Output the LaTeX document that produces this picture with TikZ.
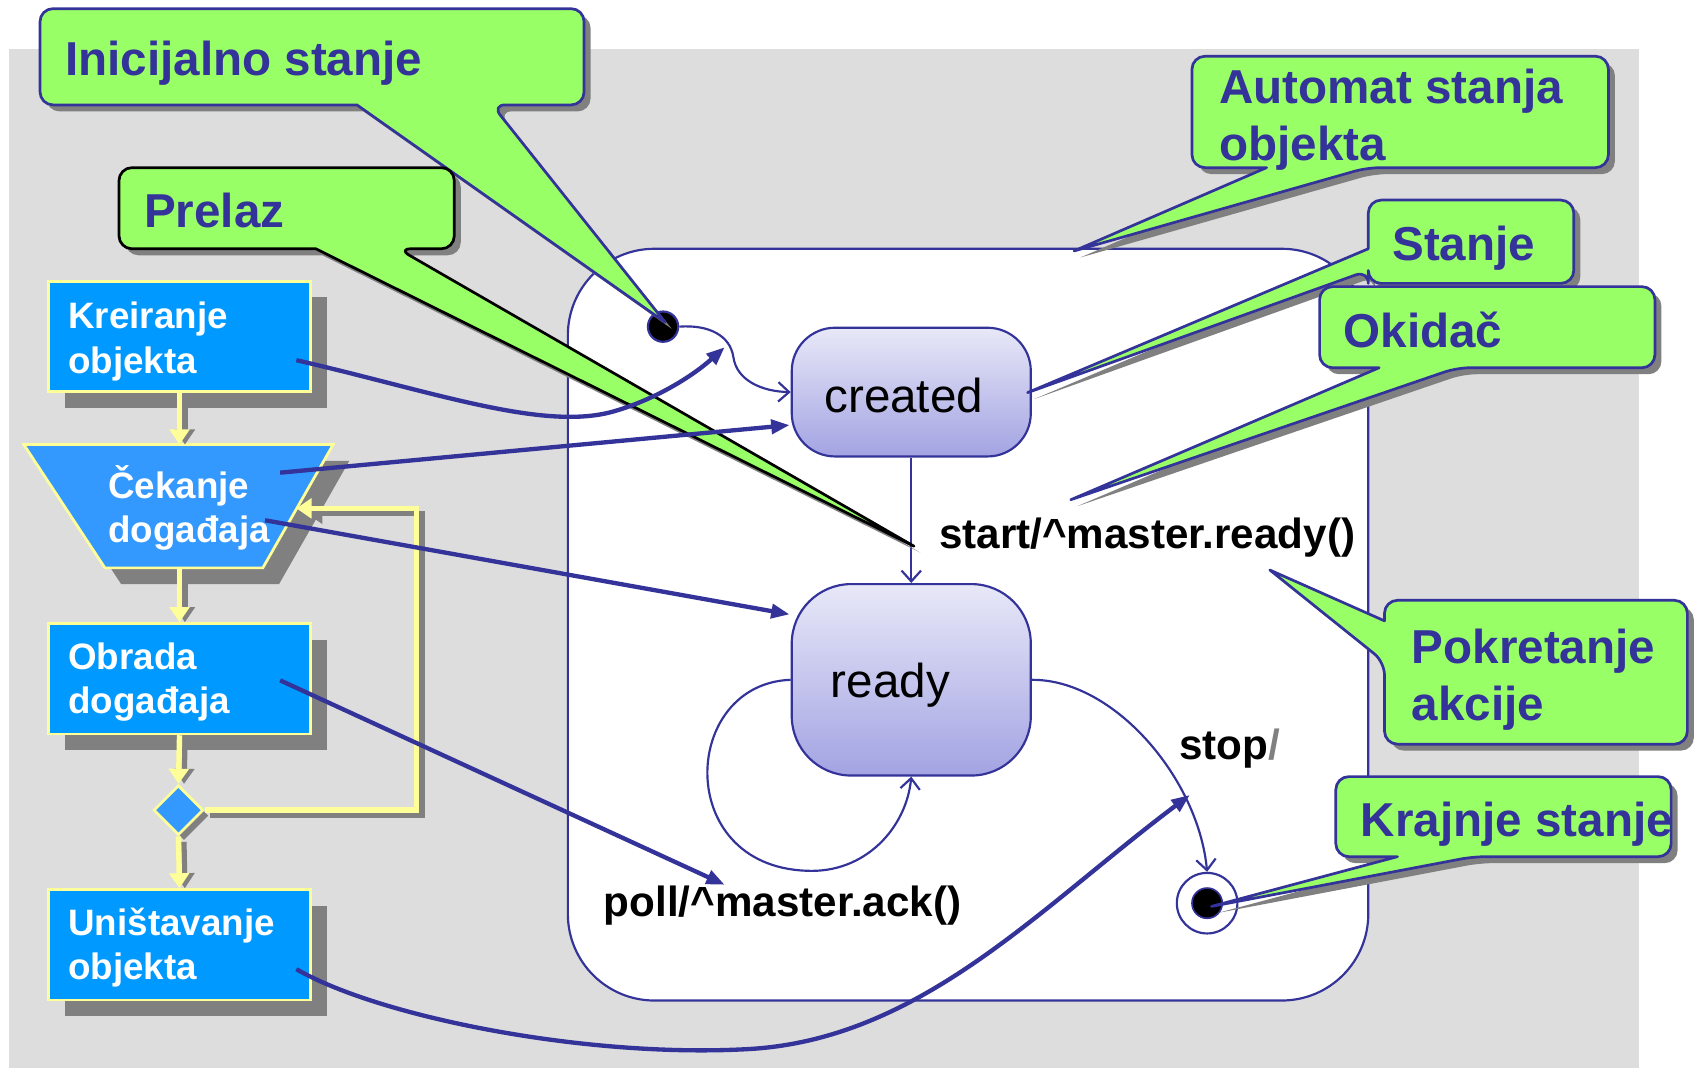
\documentclass[tikz,border=0pt]{standalone}
\usepackage{fontspec}
\setmainfont{Liberation Sans}
\usetikzlibrary{arrows.meta,shapes.geometric,shadows}
\definecolor{cgreen}{HTML}{99FF66}
\definecolor{cdblue}{HTML}{333399}
\definecolor{cfbox}{HTML}{0099FF}
\definecolor{cflight}{HTML}{3399FF}
\definecolor{cyel}{HTML}{FFFF99}
\definecolor{cshad}{HTML}{808080}
\definecolor{cbg}{HTML}{DDDDDD}
\definecolor{cstop}{HTML}{E8E8F8}
\definecolor{csbot}{HTML}{A3A3E3}
% callout with pointer from bottom edge: x1 y1 x2 y2 b1 b2 tip colour
\newcommand\callB[8]{%
  \fill[cshad,transform canvas={xshift=6pt,yshift=-6pt}] (#1,{(#2+#4)/2}) [rounded corners=12pt] -- (#1,#2) -- (#3,#2) -- (#3,#4) -- (#6,#4) [sharp corners] -- (#7) -- (#5,#4) [rounded corners=12pt] -- (#1,#4) -- cycle;
  \filldraw[fill=cgreen,draw=#8,line width=2.5pt,line join=round] (#1,{(#2+#4)/2}) [rounded corners=12pt] -- (#1,#2) -- (#3,#2) -- (#3,#4) -- (#6,#4) [sharp corners] -- (#7) -- (#5,#4) [rounded corners=12pt] -- (#1,#4) -- cycle;
}
% callout with pointer from left edge: x1 y1 x2 y2 yb1 yb2 tip colour
\newcommand\callL[8]{%
  \fill[cshad,transform canvas={xshift=6pt,yshift=-6pt}] ({(#1+#3)/2},#2) [rounded corners=12pt] -- (#3,#2) -- (#3,#4) -- (#1,#4) -- (#1,#6) [sharp corners] -- (#7) -- (#1,#5) [rounded corners=12pt] -- (#1,#2) -- cycle;
  \filldraw[fill=cgreen,draw=#8,line width=2.5pt,line join=round] ({(#1+#3)/2},#2) [rounded corners=12pt] -- (#3,#2) -- (#3,#4) -- (#1,#4) -- (#1,#6) [sharp corners] -- (#7) -- (#1,#5) [rounded corners=12pt] -- (#1,#2) -- cycle;
}
\begin{document}
\begin{tikzpicture}[x=1pt,y=-1pt,
  fbx/.style={rectangle, fill=cfbox, draw=cyel, line width=2.5pt, minimum width=242pt, minimum height=102pt, inner sep=0pt, drop shadow={shadow xshift=15pt, shadow yshift=-15pt, fill=cshad, opacity=1}},
  ftext/.style={anchor=base west, inner sep=0pt, text=white, font=\fontsize{34}{40}\selectfont\bfseries},
  ctext/.style={anchor=base west, inner sep=0pt, text=cdblue, font=\fontsize{44}{50}\selectfont\bfseries},
  stext/.style={anchor=base west, inner sep=0pt, text=black, font=\fontsize{44}{50}\selectfont},
  lab/.style={anchor=base west, inner sep=0pt, text=black, font=\fontsize{39}{44}\selectfont\bfseries},
  yarr/.style={draw=cyel, line width=5pt, -{Triangle[length=14pt,width=18pt]}},
  yshd/.style={draw=cshad, line width=5pt, shorten >=5pt, -{Triangle[length=14pt,width=18pt]}, transform canvas={xshift=5pt,yshift=-5pt}},
  stt/.style={rectangle, draw=cdblue, line width=2pt, top color=cstop, bottom color=csbot, minimum width=221pt, inner sep=0pt},
  trn/.style={draw=cdblue, line width=2pt, -{Straight Barb[length=10pt,width=18pt]}},
  conn/.style={draw=cdblue, line width=4pt, -{Triangle[length=17pt,width=13pt]}},
]
\useasboundingbox (0,0) rectangle (1568,987);
\fill[cbg] (8,45) rectangle (1515,987);
\draw[cdblue, line width=2pt, fill=white, rounded corners=80pt] (525,230) rectangle (1265,925);

% ---------- flowchart ----------
\node[fbx] (kre) at (166,311) {};
\fill[cshad] (37,426) -- (323,426) -- (258,540) -- (112,540) -- cycle;
\filldraw[fill=cflight, draw=cyel, line width=2.5pt] (22,411) -- (308,411) -- (243,525) -- (97,525) -- cycle;
\coordinate (cek-top) at (166,411);
\coordinate (cek-bot) at (166,525);
\coordinate (cek-r) at (274,470);
\node[fbx] (obr) at (166,627.5) {};
\node[diamond, fill=cflight, draw=cyel, line width=2.5pt, minimum width=46pt, minimum height=46pt, inner sep=0pt, drop shadow={shadow xshift=5pt, shadow yshift=-5pt, fill=cshad, opacity=1}] (dec) at (165,749) {};
\node[fbx] (uni) at (166,873.5) {};

\draw[yshd] (kre.south) -- (cek-top);
\draw[yshd] (cek-bot) -- (obr.north);
\draw[yshd] (obr.south) -- (dec.north);
\draw[yshd] (dec.south) -- (uni.north);
\draw[yshd] (dec.east) -- (385,749) -- (385,470) -- (cek-r);
\draw[yarr] (kre.south) -- (cek-top);
\draw[yarr] (cek-bot) -- (obr.north);
\draw[yarr] (obr.south) -- (dec.north);
\draw[yarr] (dec.south) -- (uni.north);
\draw[yarr] (dec.east) -- (385,749) -- (385,470) -- (cek-r);

\node[ftext] (t-kre1) at (63,304) {Kreiranje};
\node[ftext] (t-kre2) at (63,345) {objekta};
\node[ftext] (t-cek1) at (100,461) {Čekanje};
\node[ftext] (t-cek2) at (100,502) {događaja};
\node[ftext] (t-obr1) at (63,619) {Obrada};
\node[ftext] (t-obr2) at (63,660) {događaja};
\node[ftext] (t-uni1) at (63,865) {Uništavanje};
\node[ftext] (t-uni2) at (63,906) {objekta};

% ---------- state machine ----------
\node[stt, minimum height=119pt, rounded corners=40pt] (created) at (842.5,362.5) {};
\node[stext] (t-created) at (762,381) {created};
\node[stt, minimum height=177pt, rounded corners=55pt] (ready) at (842.5,628.5) {};
\node[stext] (t-ready) at (768,645) {ready};
\node[circle, fill=black, draw=cdblue, line width=2pt, minimum size=28pt, inner sep=0pt] (init) at (613,302) {};
\node[circle, fill=white, draw=cdblue, line width=2pt, minimum size=56pt, inner sep=0pt] (fin) at (1116,835) {};
\node[circle, fill=black, draw=cdblue, line width=1.5pt, minimum size=28pt, inner sep=0pt] (fin-in) at (1116,835) {};

\draw[trn] (init.east) .. controls (655,300) and (675,310) .. (678,330) .. controls (681,352) and (705,362) .. (created.west);
\draw[trn] (created.south) -- (ready.north);
\draw[trn] (ready.west) .. controls (630,632) and (622,800) .. (745,805) .. controls (800,808) and (838,765) .. (ready.south);
\draw[trn] (ready.east) .. controls (1030,628) and (1108,720) .. (fin.north);

\node[lab] (l-start) at (868,507) {start/\textasciicircum master.ready()};
\node[lab] (l-stop) at (1090,702) {stop\textcolor{gray}{/}};
\node[lab] (l-poll) at (558,847) {poll/\textasciicircum master.ack()};

% ---------- callouts ----------
\coordinate (tipI) at (615,298);
\coordinate (tipP) at (845,505);
\coordinate (tipA) at (993,232);
\coordinate (tipS) at (950,363);
\coordinate (tipO) at (990,462);
\coordinate (tipK) at (1174,527);
\coordinate (tipE) at (1120,838);

\callB{37}{8}{540}{97}{330}{455}{tipI}{cdblue}
\node[ctext] (t-ini) at (60,70) {Inicijalno stanje};
\callB{110}{155}{420}{230}{292}{368}{tipP}{black}
\node[ctext] (t-pre) at (133,210) {Prelaz};
\callB{1102}{52}{1487}{155}{1171}{1264}{tipA}{cdblue}
\node[ctext] (t-aut1) at (1127,96) {Automat stanja};
\node[ctext] (t-aut2) at (1127,148) {objekta};
\callL{1265}{185}{1455}{262}{230}{250}{tipS}{cdblue}
\node[ctext] (t-sta) at (1287,241) {Stanje};
\callB{1220}{265}{1530}{340}{1275}{1347}{tipO}{cdblue}
\node[ctext] (t-oki) at (1242,321) {Okidač};
\callL{1280}{555}{1560}{688}{574}{612}{tipK}{cdblue}
\node[ctext] (t-pok1) at (1305,613) {Pokretanje};
\node[ctext] (t-pok2) at (1305,666) {akcije};
\callB{1235}{718}{1545}{792}{1292}{1362}{tipE}{cdblue}
\node[ctext] (t-kra) at (1258,773) {Krajnje stanje};

% ---------- connectors ----------
\coordinate (c-kre) at (274,333);
\coordinate (c-cek) at (259,437);
\coordinate (c-dog) at (245,481);
\coordinate (c-obr) at (259,629);
\coordinate (c-uni) at (274,896);
\coordinate (e-init) at (670,321);
\coordinate (e-cre) at (730,393);
\coordinate (e-rdy) at (730,568);
\coordinate (e-poll) at (670,818);
\coordinate (e-stop) at (1100,735);

\draw[conn] (c-kre) .. controls (400,362) and (500,398) .. (565,381) .. controls (605,370) and (640,348) .. (e-init);
\draw[conn] (c-cek) -- (e-cre);
\draw[conn] (c-dog) -- (e-rdy);
\draw[conn] (c-obr) -- (e-poll);
\draw[conn] (c-uni) .. controls (350,940) and (540,978) .. (690,970) .. controls (850,962) and (960,840) .. (e-stop);
\end{tikzpicture}
\end{document}
